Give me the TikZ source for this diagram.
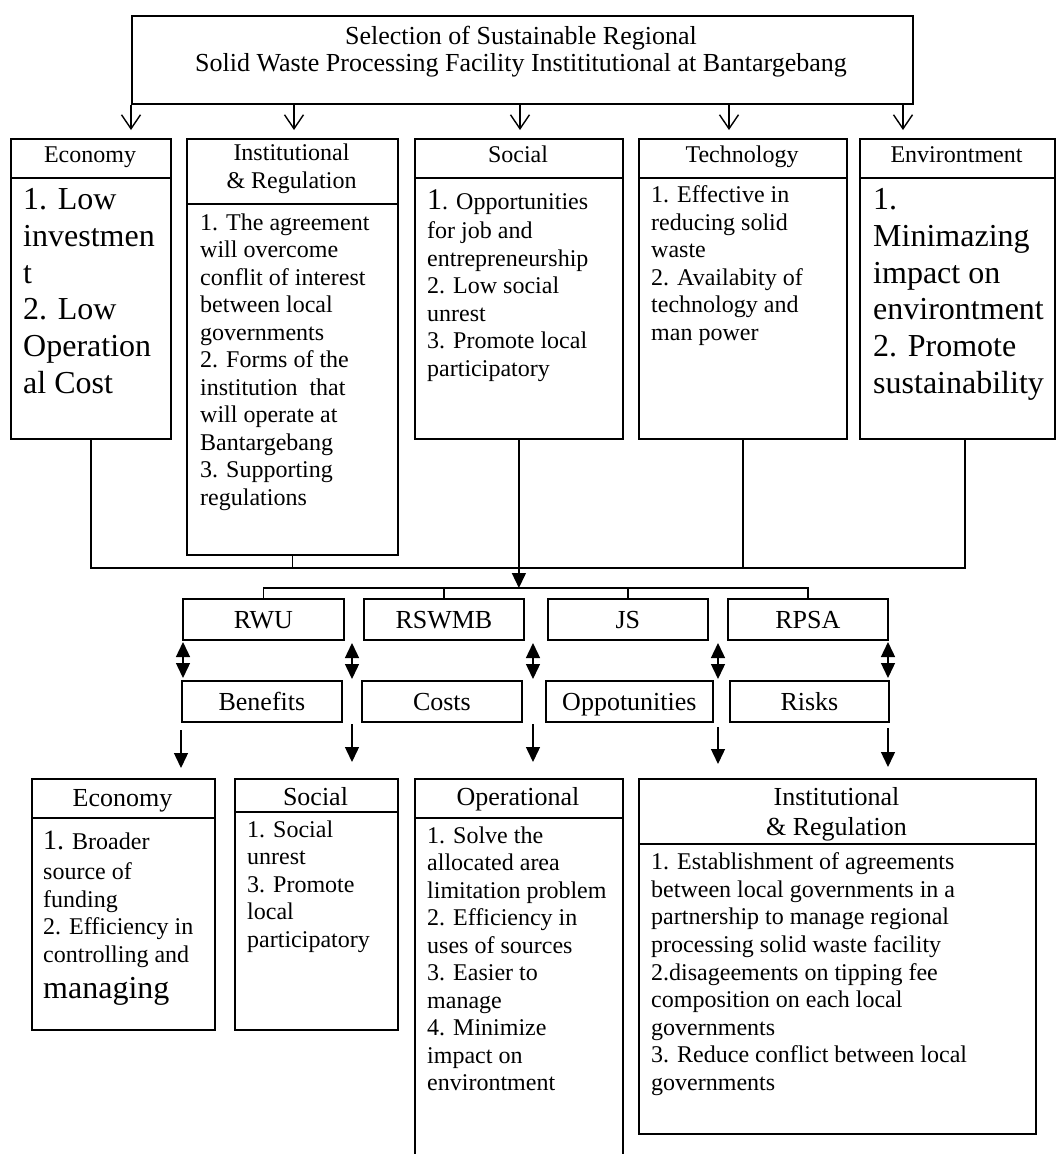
\documentclass[tikz,border=0pt]{standalone}
\usepackage{fontspec}
\setmainfont{Liberation Serif}
\usetikzlibrary{arrows.meta,calc}
\newcommand\fsz[2]{\fontsize{#1}{#2}\selectfont}
\begin{document}
\begin{tikzpicture}[x=1pt,y=-1pt,
  box/.style={draw, line width=1.8pt, rectangle, inner sep=0pt, anchor=north west},
  lbl/.style={box, minimum height=41pt, text height=17.5pt, text depth=0pt, font=\fsz{26}{30}},
  sep/.style={line width=1.8pt},
  conn/.style={line width=1.4pt},
  openarr/.style={conn, -{Straight Barb[length=14pt,width=19pt]}},
  fillarr/.style={conn, -{Triangle[length=15pt,width=14pt]}},
  dblarr/.style={conn, {Triangle[length=15pt,width=14pt]}-{Triangle[length=15pt,width=14pt]}},
  hdr/.style={inner sep=0pt, anchor=base, font=\fsz{24}{28}},
  bhdr/.style={inner sep=0pt, anchor=base, font=\fsz{26}{30}},
  body/.style={inner sep=0pt, anchor=north west, align=left, font=\fsz{24}{27.5}},
]
\useasboundingbox (0,0) rectangle (1056,1154);

% ---------- top box ----------
\node[box, minimum width=781pt, minimum height=88pt] (top) at (131,15) {};
\node[inner sep=0pt, anchor=north, align=center, font=\fsz{26}{26.5}] (toptxt) at (521,26.2)
  {Selection of Sustainable Regional\\Solid Waste Processing Facility Instititutional at Bantargebang};

% ---------- row 1 ----------
\node[box, minimum width=160pt, minimum height=300pt] (e1) at (10,138) {};
\node[box, minimum width=211pt, minimum height=416pt] (i1) at (186,138) {};
\node[box, minimum width=208pt, minimum height=300pt] (s1) at (414,138) {};
\node[box, minimum width=208pt, minimum height=300pt] (t1) at (638,138) {};
\node[box, minimum width=195pt, minimum height=300pt] (v1) at (859,138) {};
\draw[sep] (e1.north west) ++(0,40) -- ++(160,0);
\draw[sep] (i1.north west) ++(0,66) -- ++(211,0);
\draw[sep] (s1.north west) ++(0,40) -- ++(208,0);
\draw[sep] (t1.north west) ++(0,40) -- ++(208,0);
\draw[sep] (v1.north west) ++(0,40) -- ++(195,0);

\node[hdr] (e1h) at (90,162) {Economy};
\node[inner sep=0pt, anchor=north, align=center, font=\fsz{24}{28}] (i1h) at (291.5,143.6) {Institutional\\\& Regulation};
\node[hdr] (s1h) at (518,162) {Social};
\node[hdr] (t1h) at (742,162) {Technology};
\node[hdr] (v1h) at (956.5,162) {Environtment};

\node[body, font=\fsz{32}{36.7}] (e1b) at (23,188.4) {1. Low\\investmen\\t\\2. Low\\Operation\\al Cost};
\node[body] (i1b) at (200,213.6) {1. The agreement\\will overcome\\conflit of interest\\between local\\governments\\2. Forms of the\\institution~~that\\will operate at\\Bantargebang\\3. Supporting\\regulations};
\node[body] (s1b) at (427,189.7) {{\fsz{30}{30}1}. Opportunities\\[1.5pt]for job and\\entrepreneurship\\2. Low social\\unrest\\3. Promote local\\participatory};
\node[body] (t1b) at (651,185.6) {1. Effective in\\reducing solid\\waste\\2. Availabity of\\technology and\\man power};
\node[body, font=\fsz{32}{36.7}] (v1b) at (873,188.4) {1.\\Minimazing\\impact on\\environtment\\2. Promote\\sustainability};

% ---------- row 2 : alternatives ----------
\node[lbl, minimum width=161pt] (rwu) at (182,598) {RWU};
\node[lbl, minimum width=160pt] (rswmb) at (363,598) {RSWMB};
\node[lbl, minimum width=160pt] (js) at (547,598) {JS};
\node[lbl, minimum width=160pt] (rpsa) at (727,598) {RPSA};

% ---------- row 3 : criteria ----------
\node[lbl, minimum width=160pt] (ben) at (181,680) {Benefits};
\node[lbl, minimum width=160pt] (cost) at (361,680) {Costs};
\node[lbl, minimum width=167pt] (opp) at (545,680) {Oppotunities};
\node[lbl, minimum width=159pt] (risk) at (729,680) {Risks};

% ---------- row 4 ----------
\node[box, minimum width=183pt, minimum height=251pt] (e2) at (31,778) {};
\node[box, minimum width=163pt, minimum height=251pt] (s2) at (234,778) {};
\node[box, minimum width=208pt, minimum height=382pt] (op2) at (414,778) {};
\node[box, minimum width=397pt, minimum height=355pt] (i2) at (638,778) {};
\draw[sep] (e2.north west) ++(0,40) -- ++(183,0);
\draw[sep] (s2.north west) ++(0,34) -- ++(163,0);
\draw[sep] (op2.north west) ++(0,40) -- ++(208,0);
\draw[sep] (i2.north west) ++(0,66) -- ++(397,0);

\node[bhdr] (e2h) at (122.5,806) {Economy};
\node[bhdr] (s2h) at (315.5,805) {Social};
\node[bhdr] (op2h) at (518,805) {Operational};
\node[inner sep=0pt, anchor=north, align=center, font=\fsz{26}{30}] (i2h) at (836.5,787.2) {Institutional\\\& Regulation};

\node[body] (e2b) at (43,831) {{\fsz{28}{28}1.} Broader\\[2.5pt]source of\\funding\\2. Efficiency in\\controlling and\\[8.5pt]{\fsz{32}{32}managing}};
\node[body] (s2b) at (247,820.6) {1. Social\\unrest\\3. Promote\\local\\participatory};
\node[body] (op2b) at (427,826.6) {1. Solve the\\allocated area\\limitation problem\\2. Efficiency in\\uses of sources\\3. Easier to\\manage\\4. Minimize\\impact on\\environtment};
\node[body, font=\fsz{24}{27.6}] (i2b) at (651,852.6) {1. Establishment of agreements\\between local governments in a\\partnership to manage regional\\processing solid waste facility\\2.disageements on tipping fee\\composition on each local\\governments\\3. Reduce conflict between local\\governments};

% ---------- connectors ----------
\coordinate (ta1) at (131,130);
\coordinate (ta2) at (294,130);
\coordinate (ta3) at (520,130);
\coordinate (ta4) at (729,130);
\coordinate (ta5) at (903,130);
\foreach \c in {ta1,ta2,ta3,ta4,ta5}{
  \draw[openarr] (top.south -| \c) -- (\c);
}

\coordinate (j1) at (518,568);
\coordinate (j2) at (518,588);
\draw[conn] (e1.south) |- (j1);
\draw[conn] (j1) -| ([xshift=7.5pt]v1.south);
\draw[conn] (i1.south) -- (i1.south |- j1);
\draw[conn] (s1.south) -- (s1.south |- j1);
\draw[conn] (t1.south) -- (t1.south |- j1);
\draw[fillarr] (s1.south |- j1) -- (s1.south |- j2);

\draw[conn] (rwu.north) -- (rwu.north |- j2) -- (rpsa.north |- j2) -- (rpsa.north);
\draw[conn] (rswmb.north) -- (rswmb.north |- j2);
\draw[conn] (js.north) -- (js.north |- j2);

\coordinate (d1a) at (183,642); \coordinate (d1b) at (183,678);
\coordinate (d2a) at (352,643); \coordinate (d2b) at (352,679);
\coordinate (d3a) at (533,643); \coordinate (d3b) at (533,679);
\coordinate (d4a) at (718,643); \coordinate (d4b) at (718,679);
\coordinate (d5a) at (888,642); \coordinate (d5b) at (888,678);
\draw[dblarr] (d1a) -- (d1b);
\draw[dblarr] (d2a) -- (d2b);
\draw[dblarr] (d3a) -- (d3b);
\draw[dblarr] (d4a) -- (d4b);
\draw[dblarr] (d5a) -- (d5b);

\coordinate (f1a) at (181,730); \coordinate (f1b) at (181,768);
\coordinate (f2a) at (352,724); \coordinate (f2b) at (352,762);
\coordinate (f3a) at (533,724); \coordinate (f3b) at (533,762);
\coordinate (f4a) at (718,727); \coordinate (f4b) at (718,764);
\coordinate (f5a) at (888,728); \coordinate (f5b) at (888,767);
\draw[fillarr] (f1a) -- (f1b);
\draw[fillarr] (f2a) -- (f2b);
\draw[fillarr] (f3a) -- (f3b);
\draw[fillarr] (f4a) -- (f4b);
\draw[fillarr] (f5a) -- (f5b);
\end{tikzpicture}
\end{document}
